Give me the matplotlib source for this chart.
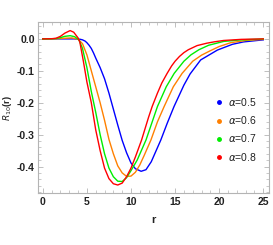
import numpy as np
import matplotlib
matplotlib.use("Agg")
import matplotlib.pyplot as plt
from matplotlib.lines import Line2D
from matplotlib.ticker import MultipleLocator

plt.rcParams['font.family'] = ['Liberation Sans Narrow', 'Liberation Sans', 'DejaVu Sans']

# values
r_08 = [0, 1.0, 1.5, 2.0, 2.5, 3.1, 3.5, 4.0, 4.2, 4.6, 5.0, 5.5, 6.0, 6.5, 7.0, 7.5, 8.0, 8.5,
        9.0, 9.5, 10.0, 10.5, 11.2, 12.0, 12.4, 13.0, 13.5, 14.1, 14.6, 15.0, 15.5, 16.0, 16.5,
        17.5, 18.6, 19.5, 20.5, 22.5, 25]
R_08 = [0, 0.0005, 0.002, 0.008, 0.018, 0.026, 0.021, 0.003, -0.01, -0.07, -0.135, -0.2, -0.285,
        -0.35, -0.405, -0.438, -0.454, -0.458, -0.452, -0.432, -0.405, -0.37, -0.317, -0.245,
        -0.212, -0.17, -0.138, -0.108, -0.085, -0.07, -0.055, -0.043, -0.034, -0.021, -0.0135,
        -0.009, -0.005, -0.0015, 0]

r_07 = [0, 1.0, 1.5, 2.0, 2.5, 3.1, 3.6, 4.1, 4.5, 5.0, 5.5, 6.0, 6.5, 7.0, 7.5, 8.0, 8.5, 9.0,
        9.5, 10.0, 10.7, 11.7, 13.0, 14.0, 14.9, 16.0, 16.8, 17.7, 18.8, 20.5, 22.5, 25]
R_07 = [0, 0.0003, 0.001, 0.004, 0.008, 0.010, 0.007, -0.003, -0.03, -0.09, -0.165, -0.23, -0.3,
        -0.36, -0.405, -0.432, -0.446, -0.447, -0.435, -0.413, -0.38, -0.317, -0.212, -0.15,
        -0.108, -0.07, -0.05, -0.034, -0.02, -0.008, -0.003, -0.0005]

r_06 = [0, 1.5, 2.5, 3.3, 4.0, 4.5, 5.0, 5.5, 6.0, 6.5, 7.0, 7.5, 8.0, 8.5, 9.0, 9.5, 10.0, 10.5,
        11.0, 11.5, 12.26, 13.0, 13.76, 14.8, 15.8, 17.0, 18.0, 19.0, 20.0, 21.3, 23.0, 25]
R_06 = [0, 0.0003, 0.002, 0.003, -0.001, -0.015, -0.05, -0.1, -0.15, -0.2, -0.255, -0.315, -0.36,
        -0.398, -0.42, -0.431, -0.43, -0.418, -0.395, -0.365, -0.317, -0.26, -0.212, -0.15,
        -0.108, -0.07, -0.051, -0.037, -0.024, -0.012, -0.005, -0.0015]

r_05 = [0, 2.0, 3.5, 4.2, 4.5, 4.8, 5.0, 5.25, 5.5, 5.75, 6.0, 6.5, 7.0, 7.5, 8.0, 8.5, 9.0, 9.5,
        10.0, 10.5, 11.15, 11.7, 12.3, 13.38, 14.1, 14.88, 16.0, 16.7, 17.9, 19.8, 21.5, 22.75, 25]
R_05 = [0, 0, 0, -0.001, -0.003, -0.007, -0.012, -0.02, -0.03, -0.044, -0.06, -0.09, -0.125,
        -0.17, -0.22, -0.27, -0.318, -0.357, -0.389, -0.407, -0.415, -0.41, -0.385, -0.317,
        -0.265, -0.212, -0.145, -0.11, -0.066, -0.035, -0.017, -0.0095, -0.003]

series = [(r_05, R_05, '#0000ff', r'$\alpha$=0.5'),
          (r_06, R_06, '#ff8000', r'$\alpha$=0.6'),
          (r_07, R_07, '#00ee00', r'$\alpha$=0.7'),
          (r_08, R_08, '#ff0000', r'$\alpha$=0.8')]

fig = plt.figure(figsize=(2.73, 2.45), dpi=100)
ax = fig.add_axes([0.14, 0.211, 0.846, 0.698])

for r, R, c, lab in series:
    ax.plot(r, R, color=c, lw=1.0)

ax.set_xlim(-0.52, 25.67)
ax.set_ylim(-0.484, 0.052)
ax.xaxis.set_major_locator(MultipleLocator(5))
ax.xaxis.set_minor_locator(MultipleLocator(1))
ax.yaxis.set_minor_locator(MultipleLocator(0.02))
ax.set_yticks([0.0, -0.1, -0.2, -0.3, -0.4])
ax.set_yticklabels(['0.0', '-0.1', '-0.2', '-0.3', '-0.4'])

for s in ax.spines.values():
    s.set_color('#b4b4b4')
    s.set_linewidth(0.8)
ax.tick_params(which='both', direction='in', top=True, right=True, color='#b4b4b4',
               labelsize=7.5, labelcolor='#222222', pad=2.5)
ax.tick_params(which='major', length=3.5, width=0.6)
ax.tick_params(which='minor', length=2, width=0.5)
for t in ax.get_xticklabels() + ax.get_yticklabels():
    t.set_fontweight('bold')

ax.set_xlabel('r', fontsize=8, fontweight='bold', color='#222222', labelpad=6)
ax.set_ylabel(r'$R_{10}$(r)', fontsize=6.5, fontweight='bold', color='#222222')
ax.yaxis.set_label_coords(-0.105, 0.5)

handles = [Line2D([], [], marker='o', ls='none', color=c, markersize=2.5) for _, _, c, _ in series]
labels = [lab for _, _, _, lab in series]
ax.legend(handles, labels, loc='upper left', bbox_to_anchor=(0.74, 0.6), frameon=False,
          fontsize=7.5, handlelength=0.8, handletextpad=0.5, labelspacing=0.6,
          borderpad=0, labelcolor='#222222')

fig.savefig('out.png', dpi=100)
